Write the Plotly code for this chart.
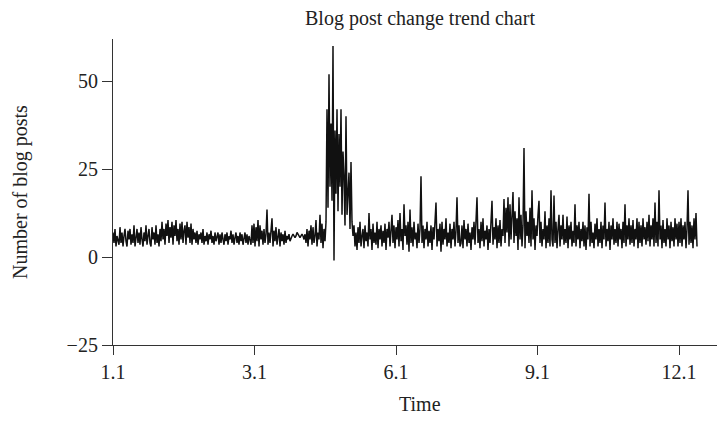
import plotly.graph_objects as go

# ---- data ----
tick_labels = ["1.1", "3.1", "6.1", "9.1", "12.1"]
y_ticks = [-25, 0, 25, 50]
y_tick_text = ["\u221225", "0", "25", "50"]

seg_jan = [7, 4, 8, 3, 6, 5, 3.5, 8.5, 4, 7, 3, 6, 8, 4.5, 3, 7.5, 5, 8, 3.5, 6.5,
           4, 9, 3, 5.5, 8, 4, 7, 3.5, 8.5, 5, 3, 7, 4.5, 9, 3.5, 6, 8, 4, 3, 8.5,
           5, 7, 3.5, 9, 4, 6.5, 3, 8]
seg_feb = [4.5, 10, 5, 8, 3.5, 9.5, 6, 10.5, 4, 8.5, 5.5, 10, 3.5, 9, 6, 10.5, 4.5, 8, 3.5, 9.5,
           5, 10, 4, 7.5, 9, 3.5, 10, 5.5, 8.5, 4, 9.5, 3.5, 8, 5, 7]
seg_mar = [4, 7.5, 3.5, 6.5, 5, 7, 4, 8, 3.5, 6, 4.5, 7, 3.5, 6.5, 5, 7.5, 4, 6, 3.5, 7,
           4.5, 5.5, 7, 3.5, 6.5, 4, 7, 5, 3.5, 6.5, 4.5, 7, 3.5, 6, 5, 7.5, 4, 6.5, 3.5, 5.5,
           7, 4, 6, 3.5, 7, 4.5, 6.5, 3.5, 5.5, 7, 4, 6.5, 3.5, 6, 5]
seg_apr = [3.5, 9, 4, 9.5, 3, 8.5, 4.5, 10.5, 3, 9, 5, 7.5, 3.5, 8, 4, 6.5, 13.5, 3.5, 7, 4,
           8, 11, 3, 7.5, 4.5, 8.5, 3.5, 6, 8, 3, 7, 4.5, 6.5, 3.5, 7.5, 4, 6, 5, 6.5, 4.5]
seg_quiet = [5.5, 6, 6.5, 6, 5.5, 6, 7, 6.5, 6, 5.5, 6, 6.5, 6, 5, 6.5]
seg_may = [4, 8, 3, 7.5, 5, 9, 3.5, 8.5, 4, 6, 10.5, 3, 7, 5, 12, 4, 9.5, 2.5, 8, 4.5, 10]
seg_burst = [42, 14, 52, 20, 38, 16, 60, -1, 36, 18, 42, 13, 35, 20, 42, 12, 30, 23, 9, 40,
             12, 20, 24, 8, 27, 10, 6]
seg_jun = [9, 3, 7, 2, 8.5, 4, 10, 3, 6, 8, 2.5, 9, 4.5, 7, 3, 12.5, 5, 8, 2, 9.5,
           4, 7, 3.5, 10, 2.5, 8, 5, 9, 3, 7.5, 4, 9.5, 2, 8, 5.5, 10, 3, 7, 12, 4,
           9, 2.5, 8.5, 5, 10.5, 3, 12.5, 4.5, 8, 2, 15, 6, 9, 3.5, 10, 1.5, 13.5, 4, 8.5, 3,
           10, 5, 7, 2.5, 9.5, 4, 8]
seg_jul = [23, 4, 9, 2.5, 8, 5, 10, 3, 7.5, 4, 9, 2, 8.5, 5, 10, 15.5, 3, 8, 4.5, 9.5,
           1.5, 10, 3.5, 8, 5, 11, 3, 7, 4, 9.5, 2.5, 8, 5, 10, 3, 7.5, 17, 4, 9, 3]
seg_late = [4, 9, 2.5, 10.5, 5, 8, 3, 9.5, 4, 7, 2, 8.5, 5, 10, 3.5, 9, 17, 4, 8, 2.5,
            10, 4.5, 11, 3, 7.5, 5, 9, 2, 8, 4, 10, 16, 3.5, 8.5, 5, 11, 2.5, 9, 4, 10.5,
            3, 8, 6, 16.5, 4, 14, 7, 17, 3, 15, 5, 12, 18.5, 4, 13, 6, 11, 2, 17, 5,
            12, 3, 9, 31, 2.5, 13, 6, 10, 4, 14, 3, 19, 5, 11, 2, 9, 6, 12, 16, 4,
            10, 3, 8, 5, 13, 2.5, 9, 4, 11, 3, 19, 5, 3, 17.5, 4, 10, 2.5, 8, 12, 3,
            9, 5, 12, 3.5, 8, 4, 11.5, 2.5, 9, 5, 10, 3, 7.5, 4, 15, 3, 9, 5, 10, 2.5,
            8, 4.5, 10, 3, 9, 2, 8.5, 5, 18, 3, 10, 4, 7, 2.5, 9.5, 5, 11, 3, 8, 4,
            10, 2.5, 9, 5, 15.5, 3, 8, 4.5, 10, 2, 9, 5, 11, 3.5, 8, 4, 10, 3, 9.5, 5,
            8, 2.5, 10, 4, 15, 3, 9, 5, 11, 3.5, 9, 4, 10.5, 3, 8, 5, 11, 2.5, 10, 4,
            9, 3, 11, 5, 8.5, 3.5, 10, 4.5, 12, 3, 9, 5, 11, 3, 15.5, 4, 10, 3, 19, 5,
            9, 2.5, 10.5, 4, 8, 3, 11, 5, 9, 2.5, 10, 4.5, 8.5, 3, 11, 5, 9.5, 3, 10, 4,
            11, 3, 9, 5, 10, 2.5, 8, 19, 3.5, 10, 4, 9, 2.5, 11, 5, 12.5, 3]

posts = (seg_jan + seg_feb + seg_mar + seg_apr + seg_quiet + seg_may + seg_burst
         + seg_jun + seg_jul + seg_late)
steps = list(range(len(posts)))

# ---- layout constants ----
W, H = 717, 430
ML, MR, MT, MB = 113, 0, 39, 85
tick_step = 141.5          # index units between labelled ticks
x_max = 604
plot_w = W - ML - MR
plot_h = H - MT - MB
FONT = "Liberation Serif, Times New Roman, serif"
FS = 20

fig = go.Figure()
fig.add_trace(go.Scatter(
    x=steps, y=posts, mode="lines",
    line=dict(color="#111111", width=1.5),
    showlegend=False, hoverinfo="skip",
))

fig.update_layout(
    width=W, height=H,
    margin=dict(l=ML, r=MR, t=MT, b=MB, pad=0),
    paper_bgcolor="white", plot_bgcolor="white",
    font=dict(family=FONT, size=FS, color="#222"),
    xaxis=dict(
        range=[0, x_max],
        tickvals=[k * tick_step for k in range(len(tick_labels))],
        ticktext=tick_labels,
        showgrid=False, zeroline=False,
        showline=True, linecolor="#333", linewidth=1.2,
        ticks="outside", ticklen=9, tickwidth=1.2, tickcolor="#333",
        tickfont=dict(family=FONT, size=FS, color="#222"),
    ),
    yaxis=dict(
        range=[-25, 62],
        tickvals=y_ticks,
        ticktext=y_tick_text,
        showgrid=False, zeroline=False,
        showline=True, linecolor="#333", linewidth=1.2,
        ticks="outside", ticklen=10, tickwidth=1.2, tickcolor="#333",
        tickfont=dict(family=FONT, size=FS, color="#222"),
    ),
    annotations=[
        dict(text="Blog post change trend chart", xref="paper", yref="paper",
             x=(420 - ML) / plot_w, y=1 + (MT - 18) / plot_h,
             showarrow=False, xanchor="center", yanchor="middle",
             font=dict(family=FONT, size=FS, color="#222")),
        dict(text="Number of blog posts", xref="paper", yref="paper",
             x=(20 - ML) / plot_w, y=0.5, textangle=-90,
             showarrow=False, xanchor="center", yanchor="middle",
             font=dict(family=FONT, size=FS, color="#222")),
        dict(text="Time", xref="paper", yref="paper",
             x=(420 - ML) / plot_w, y=-(404 - (H - MB)) / plot_h,
             showarrow=False, xanchor="center", yanchor="middle",
             font=dict(family=FONT, size=FS, color="#222")),
    ],
)

fig.write_html("out.html", config={"displayModeBar": False},
               post_script="document.body.style.margin='0px';")
